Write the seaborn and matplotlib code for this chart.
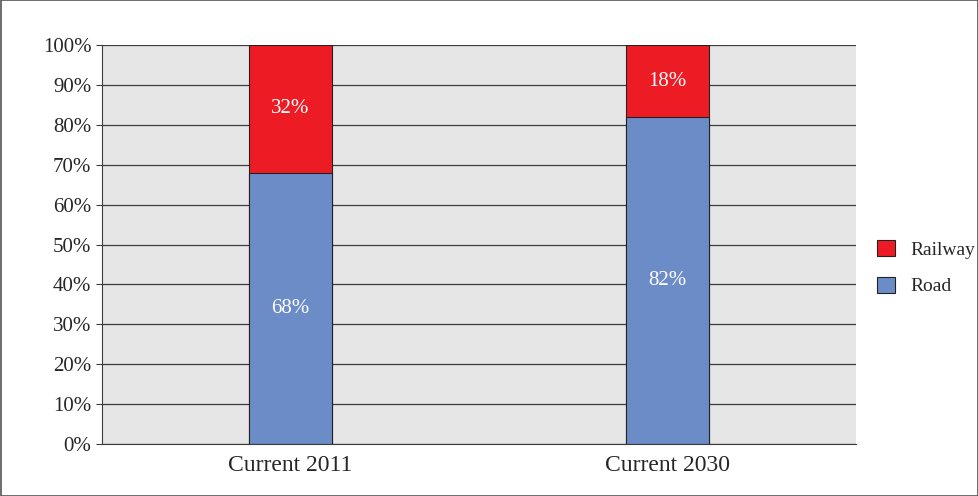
import matplotlib
matplotlib.use("Agg")
import matplotlib.pyplot as plt
import seaborn as sns
import pandas as pd
import numpy as np

categories = ["Current 2011", "Current 2030"]
road = [68, 82]
railway = [32, 18]
yticks = list(range(0, 101, 10))

sns.set_style("white")
plt.rcParams["font.family"] = ["Liberation Serif", "DejaVu Serif"]

fig = plt.figure(figsize=(9.79, 4.96), dpi=100)
ax = fig.add_axes([0.104, 0.105, 0.770, 0.804])
ax.set_facecolor("#e6e6e6")
ax.set_axisbelow(True)
ax.grid(axis="y", color="#3c3c3c", linewidth=0.9)

df = pd.DataFrame({"cat": categories, "Road": road, "Railway": railway})
df["Total"] = df["Road"] + df["Railway"]
sns.barplot(data=df, x="cat", y="Total", color="#ed1c24", width=0.22, saturation=1,
            edgecolor="#222222", linewidth=0.8, ax=ax, label="Railway")
sns.barplot(data=df, x="cat", y="Road", color="#6b8cc7", width=0.22, saturation=1,
            edgecolor="#222222", linewidth=0.8, ax=ax, label="Road")

for i in range(len(categories)):
    ax.text(i, road[i] / 2, f"{road[i]}%", ha="center", va="center", color="white", fontsize=15)
    ax.text(i, road[i] + railway[i] / 2, f"{railway[i]}%", ha="center", va="center", color="white", fontsize=15)

ax.set_xlim(-0.5, 1.5)
ax.set_ylim(0, 100)
ax.set_yticks(yticks)
ax.set_yticklabels([f"{t}%" for t in yticks], fontsize=15)
ax.tick_params(axis="x", labelsize=17, length=0, pad=8)
ax.tick_params(axis="y", length=4, left=True, color="#3c3c3c")
ax.set_xlabel("")
ax.set_ylabel("")
for s in ax.spines.values():
    s.set_visible(False)
ax.spines["left"].set_visible(True)
ax.spines["left"].set_color("#3c3c3c")
ax.spines["bottom"].set_visible(True)
ax.spines["bottom"].set_color("#3c3c3c")

h, l = ax.get_legend_handles_labels()
if ax.get_legend() is not None:
    ax.get_legend().remove()
fig.legend(h, l, loc="center left", bbox_to_anchor=(0.878, 0.46), frameon=False,
           fontsize=14, handlelength=0.9, handleheight=0.9, labelspacing=0.9)

fig.patches.append(plt.Rectangle((0.001, 0.001), 0.998, 0.998, transform=fig.transFigure,
                                 fill=False, edgecolor="#555555", linewidth=1.2))
fig.savefig("out.png", dpi=100)
